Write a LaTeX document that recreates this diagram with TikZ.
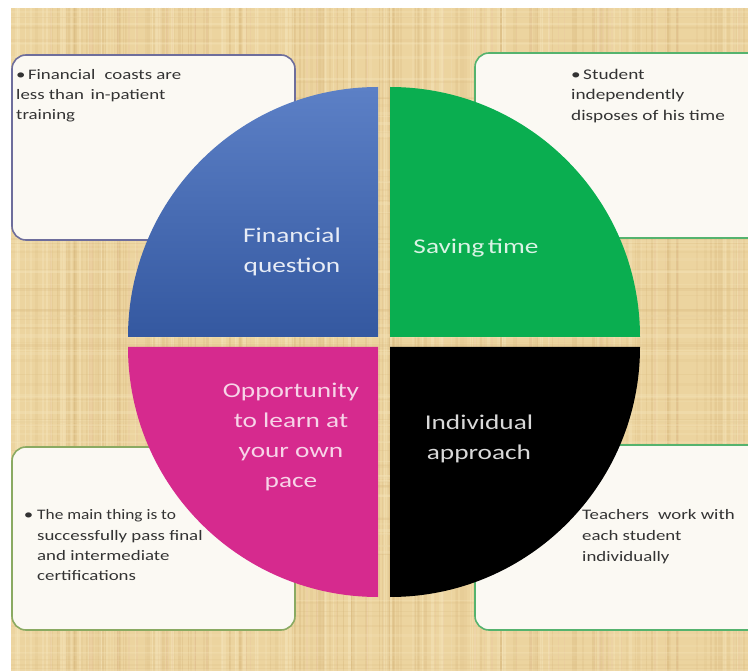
\documentclass[tikz,border=0pt]{standalone}
\usepackage{graphicx}
\usepackage{fontspec}
\setmainfont{Carlito}
\newfontfamily\boxfont[FakeStretch=1.3]{Carlito}
\newfontfamily\labfont[FakeStretch=1.3]{Carlito}
\definecolor{beige}{HTML}{ECD49F}
\definecolor{beigedark}{HTML}{D6B57A}
\definecolor{beigelight}{HTML}{F6E6BC}
\definecolor{beigepink}{HTML}{E9BFA0}
\definecolor{qblue}{HTML}{3A62B2}
\definecolor{qbluetop}{HTML}{5C80C6}
\definecolor{qgreen}{HTML}{0AAE50}
\definecolor{qpink}{HTML}{D62A8E}
\definecolor{boxfill}{HTML}{FBF9F3}
\definecolor{bordblue}{HTML}{6E6E9C}
\definecolor{bordgreen}{HTML}{55B36E}
\definecolor{bordolive}{HTML}{8AAA62}
\tikzset{
  infobox/.style={draw, line width=1.6pt, fill=boxfill, rounded corners=14pt},
  boxtext/.style={anchor=north west, inner sep=0pt, align=left, text=black!80,
    font=\boxfont\fontsize{14.5}{20.3}\selectfont},
  quadlabel/.style={align=center, inner sep=0pt,
    font=\labfont\fontsize{21}{30}\selectfont}
}
\begin{document}
\begin{tikzpicture}[x=1pt,y=-1pt]
\useasboundingbox (0,0) rectangle (748,671);
\fill[white] (0,0) rectangle (748,671);
% parchment background
\fill[beige] (11,8) rectangle (748,671);
\begin{scope}
\clip (11,8) rectangle (748,671);
\pgfmathsetseed{42}
\foreach \i in {1,...,140}{
  \pgfmathsetmacro\xx{11+rnd*737}
  \pgfmathsetmacro\ww{0.5+rnd*3}
  \pgfmathsetmacro\oo{0.12+rnd*0.22}
  \draw[beigedark, opacity=\oo, line width=\ww pt] (\xx,8) -- (\xx,671);
}
\foreach \i in {1,...,90}{
  \pgfmathsetmacro\xx{11+rnd*737}
  \pgfmathsetmacro\ww{0.5+rnd*3}
  \pgfmathsetmacro\oo{0.2+rnd*0.3}
  \draw[beigelight, opacity=\oo, line width=\ww pt] (\xx,8) -- (\xx,671);
}
\foreach \i in {1,...,40}{
  \pgfmathsetmacro\xx{11+rnd*737}
  \pgfmathsetmacro\ww{0.5+rnd*2}
  \draw[beigepink, opacity=0.22, line width=\ww pt] (\xx,8) -- (\xx,671);
}
\foreach \i in {1,...,70}{
  \pgfmathsetmacro\yy{8+rnd*663}
  \pgfmathsetmacro\ww{0.5+rnd*2.5}
  \pgfmathsetmacro\oo{0.08+rnd*0.12}
  \draw[beigedark, opacity=\oo, line width=\ww pt] (11,\yy) -- (748,\yy);
}
\foreach \i in {1,...,60}{
  \pgfmathsetmacro\yy{8+rnd*663}
  \pgfmathsetmacro\ww{0.5+rnd*2.5}
  \pgfmathsetmacro\oo{0.15+rnd*0.2}
  \draw[beigelight, opacity=\oo, line width=\ww pt] (11,\yy) -- (748,\yy);
}
\end{scope}

% info boxes
\draw[infobox, draw=bordblue] (12,55) rectangle (295,240);
\draw[infobox, draw=bordolive] (12,447) rectangle (295,630);
\begin{scope}
\clip (0,0) rectangle (748,671);
\draw[infobox, draw=bordgreen] (475,53) rectangle (765,238);
\draw[infobox, draw=bordgreen] (475,445) rectangle (765,630);
\end{scope}

\node[boxtext] (t1) at (16,69) {\textbullet\,Financial\,\, coasts are\\less than\, in-patient\\training};
\node[boxtext, font=\boxfont\fontsize{14.8}{20.3}\selectfont] (t2) at (571,69) {\textbullet\,Student\\independently\\disposes of his time};
\node[boxtext] (t3) at (37,509.5) {\llap{\textbullet\hspace{4pt}}\scalebox{0.92}[1]{The main thing is to}\\successfully pass final\\and intermediate\\certifications};
\node[boxtext, font=\boxfont\fontsize{14.5}{21}\selectfont] (t4) at (582,509.5) {Teachers\,\, work with\\each student\\individually};

% quadrants
\shade[top color=qbluetop, bottom color=qblue!90!black]
  (378,337) -- (128,337) arc[start angle=180, end angle=270, radius=250] -- cycle;
\fill[qgreen]
  (390,337) -- (390,87) arc[start angle=270, end angle=360, radius=250] -- cycle;
\fill[qpink]
  (378,347) -- (128,347) arc[start angle=180, end angle=90, radius=250] -- cycle;
\fill[black]
  (390,347) -- (640,347) arc[start angle=0, end angle=90, radius=250] -- cycle;

% quadrant labels
\node[quadlabel, text=white!88!qblue] (q1) at (292,252) {Financial\\question};
\node[quadlabel, text=white!85!qgreen] (q2) at (476,248) {Saving\,time};
\node[quadlabel, text=white!80!qpink] (q3) at (291,437) {Opportunity\\to learn at\\your own\\pace};
\node[quadlabel, text=white!85!black] (q4) at (479,439) {Individual\\approach};
\end{tikzpicture}
\end{document}
